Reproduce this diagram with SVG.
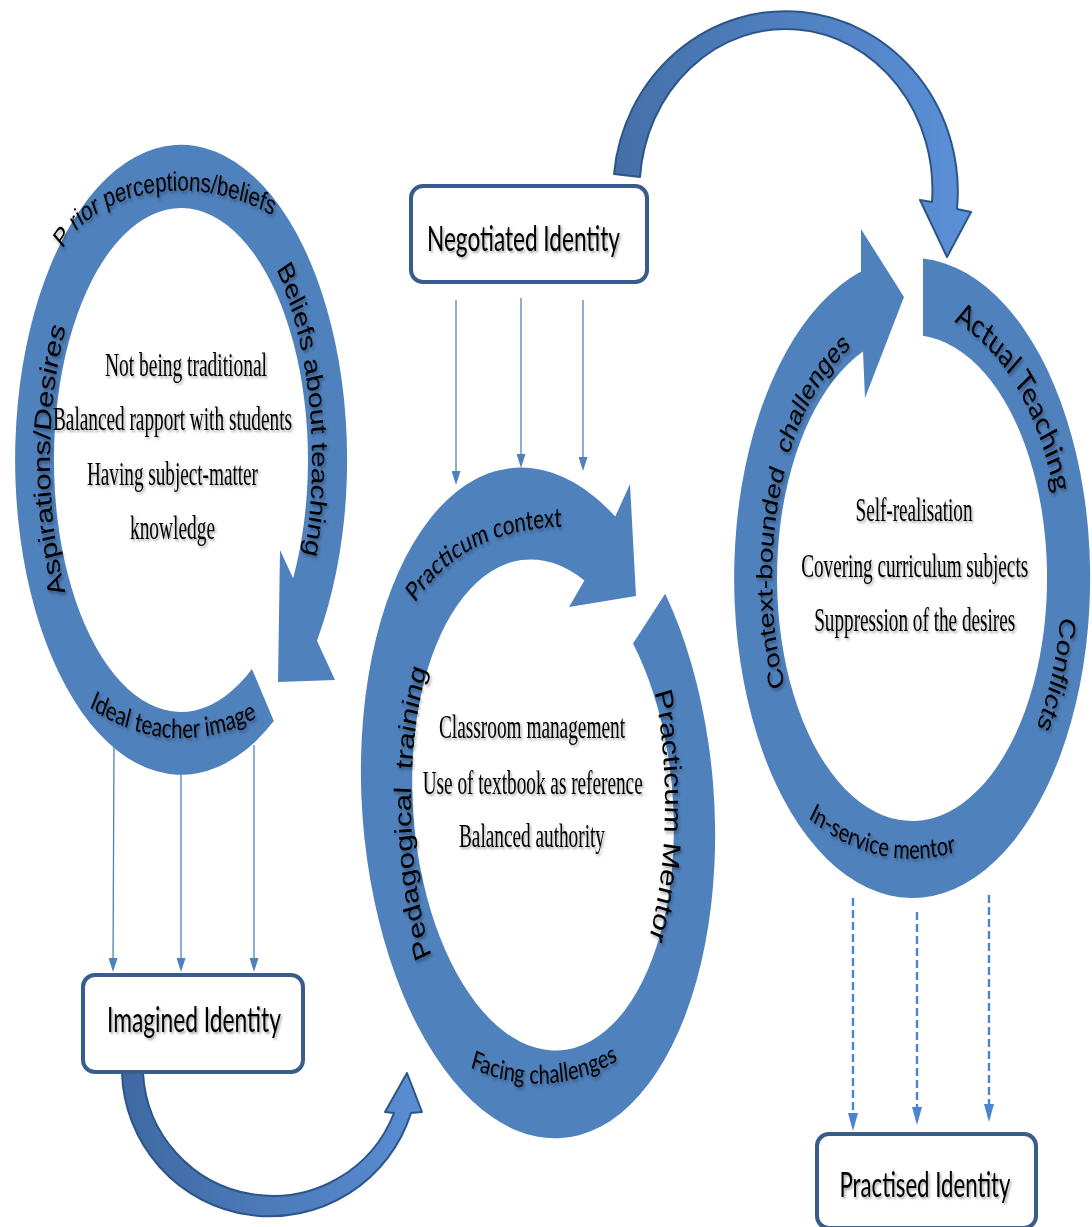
<svg xmlns="http://www.w3.org/2000/svg" width="1092" height="1227" viewBox="0 0 1092 1227">
  <defs>
    <style>
      .ring{fill:#4f81bd}
      .box{fill:#ffffff;stroke:#385d8a;stroke-width:4}
      .boxtext{font-family:Lato,"Liberation Sans",sans-serif;font-size:35px;fill:#000;text-anchor:middle}
      .body{font-family:"Liberation Serif","Times New Roman",serif;font-size:34px;fill:#000;text-anchor:middle}
      .lab{font-family:"Liberation Sans",Arial,sans-serif;fill:#000;text-anchor:middle;white-space:pre}
      .labc{font-family:Lato,"Liberation Sans",sans-serif;fill:#000;text-anchor:middle;white-space:pre}
      .feed{fill:none;stroke:#4f81bd;stroke-width:1.3}
      .dash{fill:none;stroke:#4a86cf;stroke-width:2.4;stroke-dasharray:8 4}
      .bend{stroke:#2c5588;stroke-width:2;stroke-linejoin:round}
      .sh{filter:url(#shadow)}
    </style>
    <filter id="shadow" x="-10%" y="-20%" width="130%" height="160%">
      <feDropShadow dx="1.5" dy="2" stdDeviation="1.3" flood-color="#000" flood-opacity="0.35"/>
    </filter>
    <linearGradient id="gTop" gradientUnits="userSpaceOnUse" x1="614" y1="0" x2="971" y2="0">
      <stop offset="0" stop-color="#4470a8"/>
      <stop offset="1" stop-color="#5b90d8"/>
    </linearGradient>
    <linearGradient id="gBottom" gradientUnits="userSpaceOnUse" x1="122" y1="0" x2="422" y2="0">
      <stop offset="0" stop-color="#3e69a2"/>
      <stop offset="1" stop-color="#5a8dd3"/>
    </linearGradient>
    <marker id="tipS" markerUnits="userSpaceOnUse" markerWidth="14" markerHeight="9" refX="11" refY="4.5" orient="auto">
      <path d="M0,0 L14,4.5 L0,9 Z" fill="#4f81bd"/>
    </marker>
    <marker id="tipD" markerUnits="userSpaceOnUse" markerWidth="18" markerHeight="10" refX="14" refY="5" orient="auto">
      <path d="M0,0 L18,5 L0,10 Z" fill="#4a86cf"/>
    </marker>
    <!-- label guides, local to each ring (clockwise = outer-facing, counter-clockwise = inner-facing) -->
    <path id="p1o" d="M0,214 A131,214 0 1 1 0,-214 A131,214 0 1 1 0,214"/>
    <path id="p1i" d="M0,-214 A200,214 0 1 0 0,214 A200,214 0 1 0 0,-214"/>
    <path id="p2o" d="M0,215 A127,215 0 1 1 0,-215 A127,215 0 1 1 0,215"/>
    <path id="p2i" d="M0,-216 A200,216 0 1 0 0,216 A200,216 0 1 0 0,-216"/>
    <path id="p3o" d="M0,197 A140,197 0 1 1 0,-197 A140,197 0 1 1 0,197"/>
    <path id="p3r" d="M0,205 A150,205 0 1 1 0,-205 A150,205 0 1 1 0,205"/>
    <path id="p3i" d="M0,-216 A200,216 0 1 0 0,216 A200,216 0 1 0 0,-216"/>
    <!-- top-arc guides in page x, y/1.3 -->
    <path id="p1top" d="M60,195.4 C90,147.7 200,124.6 290,174.6"/>
    <path id="p2top" d="M405,476.9 Q460,396.2 600,406.2"/>
  </defs>

  <rect width="1092" height="1227" fill="#ffffff"/>

  <!-- connectors -->
  <g id="connectors">
    <path id="arrow-negotiated-practised" class="bend" fill="url(#gTop)"
          d="M614,174 A172,180 0 1 1 957,209 L971,212 L947,257 L920,200 L932,202 A146,160 0 1 0 640,177 Z"/>
    <path id="arrow-imagined-negotiated" class="bend" fill="url(#gBottom)"
          d="M122,1073 A148,148 0 0 0 411,1113 L422,1112 L407,1073 L385,1112 L394,1113 A130,130 0 0 1 143,1073 Z"/>
    <line class="feed" x1="456" y1="300" x2="456" y2="482" marker-end="url(#tipS)"/>
    <line class="feed" x1="521" y1="298" x2="521" y2="465" marker-end="url(#tipS)"/>
    <line class="feed" x1="583" y1="300" x2="583" y2="468" marker-end="url(#tipS)"/>
    <line class="feed" x1="114" y1="745" x2="113" y2="969" marker-end="url(#tipS)"/>
    <line class="feed" x1="181" y1="745" x2="181" y2="969" marker-end="url(#tipS)"/>
    <line class="feed" x1="254" y1="745" x2="254" y2="969" marker-end="url(#tipS)"/>
    <line class="dash" x1="853" y1="898" x2="853" y2="1127" marker-end="url(#tipD)"/>
    <line class="dash" x1="917" y1="912" x2="917" y2="1121" marker-end="url(#tipD)"/>
    <line class="dash" x1="989" y1="895" x2="989" y2="1118" marker-end="url(#tipD)"/>
  </g>

  <!-- cycle 1: imagined -->
  <g id="cycle-imagined">
    <path class="ring" d="M273.8,721.1 A166,315 0 1 1 317.0,640.7 L335,680 L278,682 L280,550 L293.1,578.3 A127,252 0 1 0 252.0,668.9 Z"/>
    <g class="sh" transform="scale(1 1.3)">
      <text class="lab" font-size="20.5"><textPath href="#p1top" startOffset="47%">P rior perceptions/beliefs</textPath></text>
    </g>
    <g class="sh" transform="translate(181 460) scale(1 1.3)">
      <text class="lab" font-size="23"><textPath href="#p1o" startOffset="71.4%">Beliefs about teaching</textPath></text>
      <text class="lab" font-size="24"><textPath href="#p1o" startOffset="25%">Aspirations/Desires</textPath></text>
      <text class="labc" font-size="20.5"><textPath href="#p1i" startOffset="49.3%">Ideal teacher image</textPath></text>
    </g>
    <g class="sh">
      <text class="body" x="186" y="376" textLength="162" lengthAdjust="spacingAndGlyphs">Not being traditional</text>
      <text class="body" x="172.5" y="430" textLength="239" lengthAdjust="spacingAndGlyphs">Balanced rapport with students</text>
      <text class="body" x="172.5" y="485" textLength="171" lengthAdjust="spacingAndGlyphs">Having subject-matter</text>
      <text class="body" x="172.5" y="539" textLength="85" lengthAdjust="spacingAndGlyphs">knowledge</text>
    </g>
  </g>

  <!-- cycle 2: practicum -->
  <g id="cycle-practicum">
    <path class="ring" d="M665.2,593.7 A176,336 -4 1 1 615.3,516.6 L630,484 L636,596 L569,607 L584.4,580.4 A130,246 -4 1 0 633.0,643.5 Z"/>
    <g class="sh" transform="scale(1 1.3)">
      <text class="labc" font-size="20.5"><textPath href="#p2top" startOffset="45%">Practicum context</textPath></text>
    </g>
    <g class="sh" transform="translate(538 803) scale(1 1.3)">
      <text class="lab" font-size="24" xml:space="preserve"><textPath href="#p2o" startOffset="24.3%">Pedagogical  training</textPath></text>
      <text class="lab" font-size="24.5"><textPath href="#p2o" startOffset="75.9%">Practicum Mentor</textPath></text>
      <text class="labc" font-size="20"><textPath href="#p2i" startOffset="50.5%">Facing challenges</textPath></text>
    </g>
    <g class="sh">
      <text class="body" x="532" y="738" textLength="186" lengthAdjust="spacingAndGlyphs">Classroom management</text>
      <text class="body" x="532.7" y="794" textLength="220" lengthAdjust="spacingAndGlyphs">Use of textbook as reference</text>
      <text class="body" x="532" y="847" textLength="146" lengthAdjust="spacingAndGlyphs">Balanced authority</text>
    </g>
  </g>

  <!-- cycle 3: in-service -->
  <g id="cycle-inservice">
    <path class="ring" d="M923,258.6 A178,320 0 1 1 861,271.5 L861,229 L904,297 L865,398 L863,351.6 A135,243 0 1 0 923,335.8 Z"/>
    <g class="sh" transform="translate(912 578) scale(1 1.3)">
      <text class="lab" font-size="22" xml:space="preserve"><textPath href="#p3o" startOffset="30.5%">Context-bounded  challenges</textPath></text>
      <text class="labc" font-size="25"><textPath href="#p3r" startOffset="61.5%">Actual Teaching</textPath></text>
      <text class="lab" font-size="23"><textPath href="#p3r" startOffset="81.6%">Conflicts</textPath></text>
      <text class="labc" font-size="20"><textPath href="#p3i" startOffset="47.5%">In-service mentor</textPath></text>
    </g>
    <g class="sh">
      <text class="body" x="914" y="521" textLength="117" lengthAdjust="spacingAndGlyphs">Self-realisation</text>
      <text class="body" x="914.7" y="576.5" textLength="227" lengthAdjust="spacingAndGlyphs">Covering curriculum subjects</text>
      <text class="body" x="914.7" y="631" textLength="201" lengthAdjust="spacingAndGlyphs">Suppression of the desires</text>
    </g>
  </g>

  <!-- identity boxes -->
  <g id="negotiated-identity">
    <rect class="box" x="411" y="186" width="236" height="96" rx="12"/>
    <text class="boxtext sh" x="523.5" y="251" textLength="193" lengthAdjust="spacingAndGlyphs">Negotiated Identity</text>
  </g>
  <g id="imagined-identity">
    <rect class="box" x="83" y="975" width="220" height="97" rx="12"/>
    <text class="boxtext sh" x="194" y="1032" textLength="174" lengthAdjust="spacingAndGlyphs">Imagined Identity</text>
  </g>
  <g id="practised-identity">
    <rect class="box" x="817" y="1134" width="219" height="94" rx="12"/>
    <text class="boxtext sh" x="925" y="1197" textLength="171" lengthAdjust="spacingAndGlyphs">Practised Identity</text>
  </g>
</svg>
